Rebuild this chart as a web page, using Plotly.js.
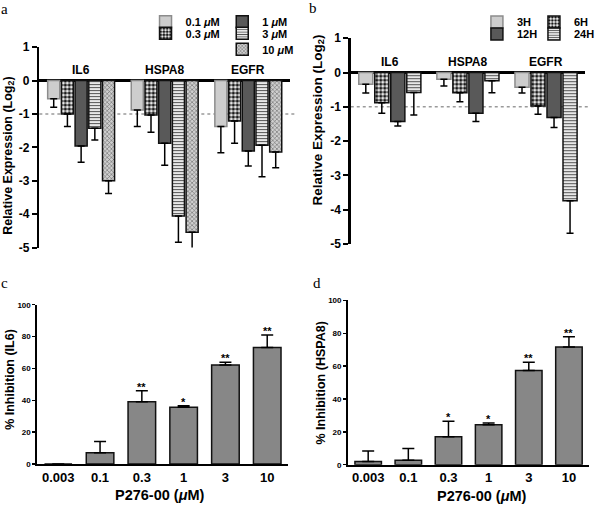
<!DOCTYPE html>
<html><head><meta charset="utf-8">
<script src="https://cdn.plot.ly/plotly-3.0.1.min.js"></script>
<style>html,body{margin:0;padding:0;background:#fff}#chart{width:600px;height:506px}</style>
</head><body><div id="chart"></div>
<script>
// ---------- data ----------
const genes = ['IL6', 'HSPA8', 'EGFR'];

// panel a: dose series (log2 relative expression) and SEM
const doseNames = ['0.1 <i>μ</i>M', '0.3 <i>μ</i>M', '1 <i>μ</i>M', '3 <i>μ</i>M', '10 <i>μ</i>M'];
const dose01 = [-0.55, -0.88, -1.38];
const dose03 = [-1.00, -1.03, -1.21];
const dose1 = [-1.96, -1.88, -2.11];
const dose3 = [-1.43, -4.06, -1.94];
const dose10 = [-3.00, -4.54, -2.14];
const dose01Err = [0.25, 0.50, 0.78];
const dose03Err = [0.38, 0.52, 0.67];
const dose1Err = [0.49, 0.66, 0.45];
const dose3Err = [0.35, 0.78, 0.94];
const dose10Err = [0.38, 0.53, 0.47];

// panel b: time series
const timeNames = ['3H', '6H', '12H', '24H'];
const time3 = [-0.34, -0.20, -0.43];
const time6 = [-0.88, -0.59, -0.98];
const time12 = [-1.43, -1.19, -1.31];
const time24 = [-0.58, -0.24, -3.74];
const time3Err = [0.26, 0.19, 0.17];
const time6Err = [0.31, 0.26, 0.24];
const time12Err = [0.13, 0.24, 0.29];
const time24Err = [0.66, 0.35, 0.95];

const logTicks = [-5, -4, -3, -2, -1, 0, 1];
const refLevel = -1;

// panels c, d
const conc = ['0.003', '0.1', '0.3', '1', '3', '10'];
const pctTicks = [0, 20, 40, 60, 80, 100];
const inhibIL6 = [0, 7.1, 39.0, 35.6, 62.1, 73.2];
const inhibIL6Err = [0, 7.0, 7.0, 1.0, 1.7, 7.8];
const starsIL6 = ['', '', '**', '*', '**', '**'];
const inhibHSPA8 = [2.0, 2.7, 17.0, 24.3, 57.4, 71.7];
const inhibHSPA8Err = [6.3, 7.1, 9.4, 1.1, 4.9, 6.1];
const starsHSPA8 = ['', '', '*', '*', '**', '**'];

// ---------- styles ----------
const FONT = 'Liberation Sans, Arial, sans-serif';
const bold = (size) => ({family: FONT, size: size, color: '#000', weight: 700});

const sLight = {color: '#cdcdcd', line: {color: '#8c8c8c', width: 1.5}};
const sCheck = {color: '#ffffff', line: {color: '#111', width: 1.5},
  pattern: {shape: '.', fgcolor: '#1a1a1a', bgcolor: '#ffffff', size: 4, solidity: 0.6}};
const sDark = {color: '#595959', line: {color: '#111', width: 1.5}};
const sHoriz = {color: '#e4e4e4', line: {color: '#111', width: 1.5},
  pattern: {shape: '-', fgcolor: '#555', bgcolor: '#e8e8e8', size: 3, solidity: 0.35}};
const sFine = {color: '#bdbdbd', line: {color: '#111', width: 1.5},
  pattern: {shape: 'x', fgcolor: '#555', bgcolor: '#cfcfcf', size: 3, solidity: 0.3}};

function negBar(y, err, name, marker, xa, ya, leg) {
  return {type: 'bar', x: genes, y: y, name: name, marker: marker, xaxis: xa, yaxis: ya,
    legend: leg, showlegend: true,
    error_y: {type: 'data', symmetric: false, array: y.map(() => 0), arrayminus: err,
      color: '#000', thickness: 1.5, width: 3.5}};
}

const traces = [
  negBar(dose01, dose01Err, doseNames[0], sLight, 'x', 'y', 'legend'),
  negBar(dose03, dose03Err, doseNames[1], sCheck, 'x', 'y', 'legend2'),
  negBar(dose1, dose1Err, doseNames[2], sDark, 'x', 'y', 'legend3'),
  negBar(dose3, dose3Err, doseNames[3], sHoriz, 'x', 'y', 'legend4'),
  negBar(dose10, dose10Err, doseNames[4], sFine, 'x', 'y', 'legend5'),
  negBar(time3, time3Err, timeNames[0], sLight, 'x2', 'y2', 'legend6'),
  negBar(time6, time6Err, timeNames[1], sCheck, 'x2', 'y2', 'legend7'),
  negBar(time12, time12Err, timeNames[2], sDark, 'x2', 'y2', 'legend8'),
  negBar(time24, time24Err, timeNames[3], sHoriz, 'x2', 'y2', 'legend9'),
  {type: 'bar', x: conc, y: inhibIL6, xaxis: 'x3', yaxis: 'y3', showlegend: false, width: 0.66,
    marker: {color: '#878787', line: {color: '#111', width: 1.5}},
    error_y: {type: 'data', symmetric: false, array: inhibIL6Err, arrayminus: inhibIL6.map(() => 0),
      color: '#000', thickness: 1.5, width: 6}},
  {type: 'bar', x: conc, y: inhibHSPA8, xaxis: 'x4', yaxis: 'y4', showlegend: false, width: 0.66,
    marker: {color: '#878787', line: {color: '#111', width: 1.5}},
    error_y: {type: 'data', symmetric: false, array: inhibHSPA8Err, arrayminus: inhibHSPA8.map(() => 0),
      color: '#000', thickness: 1.5, width: 6}}
];

// ---------- layout ----------
function legendAt(px, py) {
  return {x: px / 600, y: 1 - py / 506, xanchor: 'left', yanchor: 'middle',
    bgcolor: 'rgba(0,0,0,0)', borderwidth: 0, font: bold(11), tracegroupgap: 0};
}

const negY = (dom) => ({domain: dom, range: [-5, 1], tickvals: logTicks, ticktext: logTicks.map(String),
  showline: true, linewidth: 2.5, linecolor: '#000', ticks: 'outside', ticklen: 5, tickwidth: 2,
  tickcolor: '#000', showgrid: false, zeroline: true, zerolinecolor: '#000', zerolinewidth: 2.5,
  tickfont: bold(12)});
const catX = (dom, anchor) => ({domain: dom, anchor: anchor, type: 'category', range: [-0.5, 2.5],
  showticklabels: false, showline: false, ticks: '', showgrid: false, zeroline: false});
const pctY = (dom, anchor) => ({domain: dom, anchor: anchor, range: [0, 100], tickvals: pctTicks,
  showline: true, linewidth: 2, linecolor: '#000', ticks: 'outside', ticklen: 3, tickwidth: 1.5,
  tickcolor: '#000', showgrid: false, zeroline: false, tickfont: bold(8)});
const concX = (dom, anchor) => ({domain: dom, anchor: anchor, type: 'category', range: [-0.5, 5.5],
  showline: true, linewidth: 2, linecolor: '#000', ticks: '', showgrid: false, zeroline: false,
  tickfont: bold(13)});

const annotations = [];
const txt = (o) => Object.assign({showarrow: false, xanchor: 'center', yanchor: 'middle'}, o);
// gene labels
genes.forEach((g, i) => {
  annotations.push(txt({xref: 'x', yref: 'y', x: i, y: 0.04, text: g, yanchor: 'bottom', font: bold(12)}));
  annotations.push(txt({xref: 'x2', yref: 'y2', x: i, y: 0.04, text: g, yanchor: 'bottom', font: bold(12)}));
});
// significance stars
conc.forEach((c, i) => {
  if (starsIL6[i]) annotations.push(txt({xref: 'x3', yref: 'y3', x: i, y: inhibIL6[i] + inhibIL6Err[i],
    text: starsIL6[i], yanchor: 'bottom', yshift: -4, font: bold(11)}));
  if (starsHSPA8[i]) annotations.push(txt({xref: 'x4', yref: 'y4', x: i, y: inhibHSPA8[i] + inhibHSPA8Err[i],
    text: starsHSPA8[i], yanchor: 'bottom', yshift: -4, font: bold(11)}));
});
// axis titles
annotations.push(txt({xref: 'paper', yref: 'paper', x: 9 / 600, y: 1 - 156 / 506, text: 'Relative Expression (Log<sub>2</sub>)',
  textangle: -90, font: bold(12.5)}));
annotations.push(txt({xref: 'paper', yref: 'paper', x: 324 / 600, y: 1 - 120 / 506, text: 'Relative Expression (Log<sub>2</sub>)',
  textangle: -90, font: bold(13.5)}));
annotations.push(txt({xref: 'paper', yref: 'paper', x: 10 / 600, y: 1 - 379 / 506, text: '% Inhibition (IL6)',
  textangle: -90, font: bold(12.5)}));
annotations.push(txt({xref: 'paper', yref: 'paper', x: 326 / 600, y: 1 - 383 / 506, text: '% Inhibition (HSPA8)',
  textangle: -90, font: bold(12.5)}));
annotations.push(txt({xref: 'paper', yref: 'paper', x: 163 / 600, y: 1 - 495 / 506, text: 'P276-00 (<i>μ</i>M)',
  font: bold(14.5)}));
annotations.push(txt({xref: 'paper', yref: 'paper', x: 490 / 600, y: 1 - 496 / 506, text: 'P276-00 (<i>μ</i>M)',
  font: bold(14.5)}));
// panel letters
[['a', 5, 9], ['b', 318, 8], ['c', 5, 283], ['d', 322, 283]].forEach(([t, px, py]) => {
  annotations.push(txt({xref: 'paper', yref: 'paper', x: px / 600, y: 1 - py / 506, text: t,
    font: {family: 'Liberation Serif, Times New Roman, serif', size: 15, color: '#000'}}));
});

const shapes = [
  {type: 'line', xref: 'x domain', yref: 'y', x0: 0, x1: 1.02, y0: refLevel, y1: refLevel,
    line: {color: '#9a9a9a', width: 1.5, dash: 'dot'}, layer: 'below'},
  {type: 'line', xref: 'x2 domain', yref: 'y2', x0: 0, x1: 1.02, y0: refLevel, y1: refLevel,
    line: {color: '#9a9a9a', width: 1.5, dash: 'dot'}, layer: 'below'}
];

const layout = {
  width: 600, height: 506, margin: {l: 0, r: 0, t: 0, b: 0},
  paper_bgcolor: '#fff', plot_bgcolor: 'rgba(0,0,0,0)',
  barmode: 'group', bargap: 0.18, bargroupgap: 0.12,
  font: {family: FONT, color: '#000'},
  xaxis: catX([40 / 600, 295 / 600], 'y'),
  yaxis: Object.assign(negY([1 - 247.5 / 506, 1 - 47.1 / 506]), {anchor: 'x'}),
  xaxis2: catX([356.7 / 600, 595 / 600], 'y2'),
  yaxis2: Object.assign(negY([1 - 244 / 506, 1 - 38.2 / 506]), {anchor: 'x2'}),
  xaxis3: concX([38 / 600, 293 / 600], 'y3'),
  yaxis3: pctY([1 - 464 / 506, 1 - 304.7 / 506], 'x3'),
  xaxis4: concX([354 / 600, 599 / 600], 'y4'),
  yaxis4: pctY([1 - 464.7 / 506, 1 - 300.4 / 506], 'x4'),
  legend: legendAt(148, 21.7),
  legend2: legendAt(148, 33.3),
  legend3: legendAt(226, 21.7),
  legend4: legendAt(226, 33.3),
  legend5: legendAt(226, 49.3),
  legend6: legendAt(485, 22),
  legend7: legendAt(543, 22),
  legend8: legendAt(485, 34),
  legend9: legendAt(543, 34),
  annotations: annotations,
  shapes: shapes
};

Plotly.newPlot('chart', traces, layout, {displayModeBar: false, staticPlot: true});
</script></body></html>
